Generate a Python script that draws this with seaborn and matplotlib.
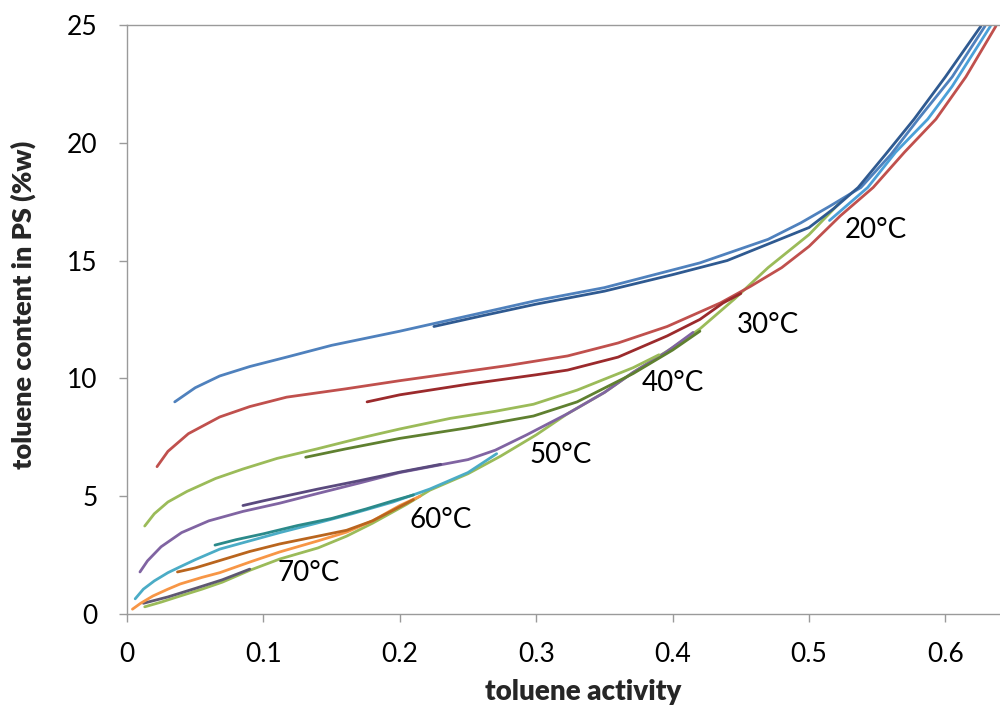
import matplotlib
matplotlib.use("Agg")
import matplotlib.pyplot as plt
import seaborn as sns
import pandas as pd

# ---- data ----
# 20 °C
a20_model = [0.035, 0.05, 0.068, 0.09, 0.117, 0.15, 0.2, 0.25, 0.3, 0.35, 0.42, 0.47, 0.494, 0.515, 0.538,
             0.56, 0.58, 0.605, 0.629]
w20_model = [9.0, 9.6, 10.1, 10.5, 10.9, 11.4, 12.0, 12.65, 13.3, 13.85, 14.9, 15.9, 16.6, 17.3, 18.1,
             19.5, 21.0, 22.8, 24.95]
a20_data = [0.225, 0.26, 0.3, 0.35, 0.4, 0.44, 0.47, 0.5, 0.518, 0.536, 0.556, 0.577, 0.6, 0.626]
w20_data = [12.2, 12.65, 13.15, 13.7, 14.4, 15.0, 15.7, 16.4, 17.2, 18.1, 19.5, 21.0, 22.8, 24.95]
a20_extra = [0.515, 0.543, 0.5635, 0.587, 0.605, 0.633]
w20_extra = [16.7, 18.1, 19.6, 21.0, 22.4, 24.95]
# 30 °C
a30_model = [0.022, 0.03, 0.045, 0.068, 0.09, 0.117, 0.16, 0.2, 0.237, 0.28, 0.323, 0.36, 0.396,
             0.435, 0.457, 0.48, 0.5, 0.523, 0.547, 0.57, 0.593, 0.615, 0.637]
w30_model = [6.25, 6.9, 7.65, 8.36, 8.8, 9.2, 9.55, 9.9, 10.2, 10.55, 10.95, 11.5, 12.2,
             13.2, 13.9, 14.7, 15.6, 16.9, 18.1, 19.6, 21.0, 22.8, 24.95]
a30_data = [0.176, 0.2, 0.25, 0.3, 0.323, 0.36, 0.396, 0.42, 0.437, 0.45]
w30_data = [9.0, 9.3, 9.75, 10.15, 10.35, 10.9, 11.8, 12.5, 13.2, 13.6]
# 40 °C
a40_model = [0.013, 0.02, 0.03, 0.044, 0.065, 0.085, 0.11, 0.139, 0.17, 0.2, 0.237, 0.27, 0.298, 0.33, 0.371, 0.39]
w40_model = [3.73, 4.25, 4.75, 5.2, 5.75, 6.15, 6.6, 7.0, 7.45, 7.85, 8.3, 8.6, 8.9, 9.5, 10.45, 11.0]
a40_data = [0.131, 0.16, 0.2, 0.25, 0.298, 0.33, 0.371, 0.4, 0.42]
w40_data = [6.65, 7.0, 7.45, 7.9, 8.4, 9.0, 10.2, 11.2, 12.0]
# 50 °C
a50_model = [0.0095, 0.015, 0.025, 0.04, 0.06, 0.085, 0.112, 0.139, 0.17, 0.2, 0.25, 0.27, 0.293,
             0.323, 0.35, 0.371, 0.395, 0.415]
w50_model = [1.78, 2.25, 2.85, 3.45, 3.95, 4.35, 4.7, 5.1, 5.55, 6.0, 6.55, 6.95, 7.6,
             8.5, 9.4, 10.25, 11.1, 11.95]
a50_data = [0.085, 0.1, 0.12, 0.14, 0.17, 0.2, 0.23]
w50_data = [4.6, 4.8, 5.05, 5.3, 5.65, 6.02, 6.35]
# 60 °C
a60_model = [0.006, 0.012, 0.02, 0.03, 0.039, 0.05, 0.068, 0.09, 0.112, 0.139, 0.165, 0.195, 0.222, 0.25, 0.271]
w60_model = [0.64, 1.05, 1.4, 1.75, 2.0, 2.3, 2.75, 3.1, 3.45, 3.85, 4.25, 4.75, 5.3, 6.0, 6.8]
a60_data = [0.0645, 0.08, 0.1, 0.125, 0.15, 0.175, 0.195, 0.21]
w60_data = [2.92, 3.15, 3.4, 3.75, 4.05, 4.45, 4.8, 5.05]
# 70 °C
a70_model = [0.004, 0.01, 0.019, 0.03, 0.039, 0.055, 0.068, 0.09, 0.112, 0.14, 0.161, 0.18, 0.2, 0.215]
w70_model = [0.2, 0.45, 0.76, 1.05, 1.27, 1.55, 1.75, 2.2, 2.63, 3.1, 3.47, 3.95, 4.6, 5.0]
a70_data = [0.037, 0.05, 0.07, 0.09, 0.112, 0.14, 0.161, 0.18, 0.195, 0.21]
w70_data = [1.78, 1.95, 2.3, 2.65, 2.97, 3.3, 3.55, 3.95, 4.4, 4.85]
# common lower curve
a_env = [0.013, 0.025, 0.039, 0.055, 0.07, 0.09, 0.112, 0.14, 0.161, 0.18, 0.205, 0.222, 0.25, 0.274,
         0.3, 0.323, 0.35, 0.371, 0.4, 0.42, 0.445, 0.47, 0.5, 0.525]
w_env = [0.3, 0.5, 0.76, 1.05, 1.35, 1.85, 2.33, 2.8, 3.3, 3.85, 4.65, 5.25, 5.95, 6.7,
         7.6, 8.5, 9.4, 10.25, 11.3, 12.1, 13.35, 14.7, 16.1, 17.6]
a_env_data = [0.012, 0.03, 0.05, 0.07, 0.09]
w_env_data = [0.45, 0.72, 1.08, 1.45, 1.9]

labels = ["20°C", "30°C", "40°C", "50°C", "60°C", "70°C"]
label_x = [0.549, 0.470, 0.400, 0.318, 0.230, 0.1335]
label_y = [16.3, 12.27, 9.8, 6.75, 4.0, 1.74]

x_ticks = [0, 0.1, 0.2, 0.3, 0.4, 0.5, 0.6]
x_ticklabels = ["0", "0.1", "0.2", "0.3", "0.4", "0.5", "0.6"]
y_ticks = [0, 5, 10, 15, 20, 25]

series = [
    ("env", a_env, w_env, "#9BBB59"),
    ("env_data", a_env_data, w_env_data, "#5E5872"),
    ("70m", a70_model, w70_model, "#F79646"),
    ("70d", a70_data, w70_data, "#B9651E"),
    ("60m", a60_model, w60_model, "#4BACC6"),
    ("60d", a60_data, w60_data, "#2B8A8A"),
    ("50m", a50_model, w50_model, "#8064A2"),
    ("50d", a50_data, w50_data, "#5A4A7E"),
    ("40m", a40_model, w40_model, "#9BBB59"),
    ("40d", a40_data, w40_data, "#5F8030"),
    ("30m", a30_model, w30_model, "#C0504D"),
    ("30d", a30_data, w30_data, "#9B2A2C"),
    ("20x", a20_extra, w20_extra, "#4BA0D8"),
    ("20m", a20_model, w20_model, "#4F81BD"),
    ("20d", a20_data, w20_data, "#2F5A91"),
]

frames = []
for name, a, w, _ in series:
    frames.append(pd.DataFrame({"activity": a, "content": w, "series": name}))
df = pd.concat(frames, ignore_index=True)
palette = {name: c for name, _, _, c in series}

sns.set_style("white")
plt.rcParams["font.family"] = ["Lato", "DejaVu Sans"]

fig = plt.figure(figsize=(10, 7.13), dpi=100)
ax = fig.add_axes([0.127, 0.139, 0.873, 0.826])

sns.lineplot(data=df, x="activity", y="content", hue="series", palette=palette,
             hue_order=[s[0] for s in series], sort=False, estimator=None,
             linewidth=2.0, legend=False, ax=ax)

for t, x, y in zip(labels, label_x, label_y):
    ax.text(x, y, t, ha="center", va="center", fontsize=20, color="black")

ax.set_xlim(0, 0.64)
ax.set_ylim(0, 25)
ax.set_xticks(x_ticks)
ax.set_xticklabels(x_ticklabels)
ax.set_yticks(y_ticks)
ax.tick_params(axis="both", direction="out", length=6, width=1, color="#9A9A9A",
               labelsize=19, labelcolor="black", left=True, bottom=True)
ax.tick_params(axis="x", pad=14)
ax.tick_params(axis="y", pad=15)
for side in ["left", "bottom", "top"]:
    ax.spines[side].set_color("#9A9A9A")
    ax.spines[side].set_linewidth(1)
ax.spines["right"].set_visible(False)

ax.set_xlabel("toluene activity", fontsize=20, fontweight="heavy")
ax.set_ylabel("toluene content in PS (%w)", fontsize=19.5, fontweight="heavy")
ax.xaxis.set_label_coords(0.522, -0.11)
ax.yaxis.set_label_coords(-0.104, 0.525)

fig.savefig("out.png", dpi=100)
